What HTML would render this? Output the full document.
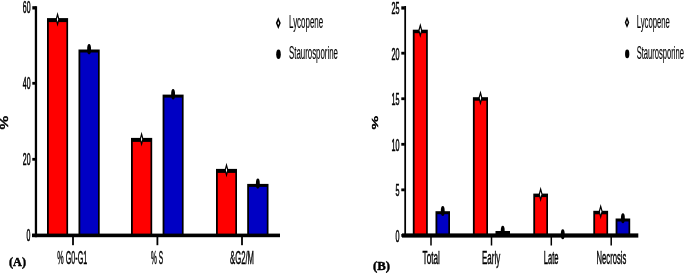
<!DOCTYPE html>
<html><head><meta charset="utf-8"><title>Figure</title>
<style>
html,body{margin:0;padding:0;background:#fff;}
svg{display:block;}
text{font-family:"Liberation Sans",Arial,sans-serif;fill:#000;stroke:#000;stroke-width:0.45px;}
.dig{stroke-width:0.6px;}
.leg{stroke-width:0.15px;}
.ser{font-family:"Liberation Serif","Times New Roman",serif;font-weight:bold;}
</style></head><body>
<svg width="685" height="274" viewBox="0 0 685 274">
<rect x="0" y="0" width="685" height="274" fill="#fff"/>

<rect x="47" y="18.1" width="21.099999999999994" height="217.20000000000002" fill="#000"/>
<rect x="48.8" y="22.1" width="17.599999999999994" height="213.20000000000002" fill="#ff0000"/>
<rect x="78.5" y="49.5" width="21.200000000000003" height="185.8" fill="#000"/>
<rect x="80.3" y="52.5" width="17.700000000000003" height="182.8" fill="#0000c4"/>
<polygon points="57.55,14.3 58.849999999999994,19.3 57.55,24.3 56.25,19.3" fill="#fff" stroke="#000" stroke-width="1.2"/>
<ellipse cx="89.1" cy="49.2" rx="1.95" ry="5.2" fill="#000"/>
<rect x="131" y="137.9" width="21.19999999999999" height="97.4" fill="#000"/>
<rect x="132.8" y="141.9" width="17.69999999999999" height="93.4" fill="#ff0000"/>
<rect x="162.6" y="94.6" width="21.0" height="140.70000000000002" fill="#000"/>
<rect x="164.4" y="97.6" width="17.5" height="137.70000000000002" fill="#0000c4"/>
<polygon points="141.6,134.1 142.9,139.1 141.6,144.1 140.29999999999998,139.1" fill="#fff" stroke="#000" stroke-width="1.2"/>
<ellipse cx="173.1" cy="94.3" rx="1.95" ry="5.2" fill="#000"/>
<rect x="216" y="168.9" width="21" height="66.4" fill="#000"/>
<rect x="217.8" y="172.9" width="17.5" height="62.400000000000006" fill="#ff0000"/>
<rect x="247.2" y="183.9" width="21.30000000000001" height="51.400000000000006" fill="#000"/>
<rect x="249.0" y="186.9" width="17.80000000000001" height="48.400000000000006" fill="#0000c4"/>
<polygon points="226.5,165.1 227.8,170.1 226.5,175.1 225.2,170.1" fill="#fff" stroke="#000" stroke-width="1.2"/>
<ellipse cx="257.85" cy="183.6" rx="1.95" ry="5.2" fill="#000"/>
<rect x="34.8" y="6.2" width="2.3" height="231" fill="#000"/>
<rect x="32" y="233.6" width="248" height="3.6" fill="#000"/>
<rect x="32.3" y="233.9" width="3.5" height="2.8" fill="#000"/>
<text x="30.5" y="241.4" font-size="16.8" textLength="3.9" lengthAdjust="spacingAndGlyphs" text-anchor="end" class="dig">0</text>
<rect x="32.3" y="157.9" width="3.5" height="2.8" fill="#000"/>
<text x="30.5" y="165.4" font-size="16.8" textLength="7.7" lengthAdjust="spacingAndGlyphs" text-anchor="end" class="dig">20</text>
<rect x="32.3" y="81.9" width="3.5" height="2.8" fill="#000"/>
<text x="30.5" y="89.4" font-size="16.8" textLength="7.7" lengthAdjust="spacingAndGlyphs" text-anchor="end" class="dig">40</text>
<rect x="32.3" y="6.2" width="3.5" height="3.3" fill="#000"/>
<text x="30.5" y="13.400000000000011" font-size="16.8" textLength="7.7" lengthAdjust="spacingAndGlyphs" text-anchor="end" class="dig">60</text>
<rect x="72.1" y="236" width="1.8" height="9.2" fill="#000"/>
<rect x="156.5" y="236" width="1.8" height="9.2" fill="#000"/>
<rect x="241.1" y="236" width="1.8" height="9.2" fill="#000"/>
<text x="57.3" y="264" font-size="18" textLength="30" lengthAdjust="spacingAndGlyphs" text-anchor="start">% G0-G1</text>
<text x="151" y="264" font-size="18" textLength="12" lengthAdjust="spacingAndGlyphs" text-anchor="start">% S</text>
<text x="230" y="264" font-size="18" textLength="24" lengthAdjust="spacingAndGlyphs" text-anchor="start">&amp;G2/M</text>
<text transform="translate(8.2,129.4) rotate(-90)" font-size="10.2" textLength="13.6" lengthAdjust="spacingAndGlyphs">%</text>
<text x="9" y="266.3" font-size="12.5" textLength="17" lengthAdjust="spacingAndGlyphs" text-anchor="start" class="ser">(A)</text>
<polygon points="278.3,19.200000000000003 279.95,23.1 278.3,27.0 276.65000000000003,23.1" fill="#fff" stroke="#000" stroke-width="1.5"/>
<text x="289" y="28.2" font-size="18" textLength="34.2" lengthAdjust="spacingAndGlyphs" text-anchor="start" class="leg">Lycopene</text>
<ellipse cx="278.5" cy="54.2" rx="2.3" ry="4.7" fill="#000"/>
<text x="289" y="59" font-size="18" textLength="49" lengthAdjust="spacingAndGlyphs" text-anchor="start" class="leg">Staurosporine</text>
<rect x="412.8" y="29.7" width="15.0" height="205.70000000000002" fill="#000"/>
<rect x="414.6" y="33.2" width="11.5" height="202.20000000000002" fill="#ff0000"/>
<rect x="435.5" y="211.2" width="14.5" height="24.200000000000017" fill="#000"/>
<rect x="437.3" y="214.2" width="11.0" height="21.200000000000017" fill="#0000c4"/>
<polygon points="420.3,25.25 421.7,30.5 420.3,35.75 418.90000000000003,30.5" fill="#fff" stroke="#000" stroke-width="1.2"/>
<ellipse cx="442.75" cy="210.89999999999998" rx="1.95" ry="5.0" fill="#000"/>
<rect x="472.9" y="97.2" width="15.100000000000023" height="138.2" fill="#000"/>
<rect x="474.7" y="100.7" width="11.600000000000023" height="134.7" fill="#ff0000"/>
<rect x="495.5" y="231" width="14.5" height="4.400000000000006" fill="#000"/>
<rect x="497.3" y="234" width="11.0" height="1.4000000000000057" fill="#0000c4"/>
<polygon points="480.45,92.75 481.84999999999997,98.0 480.45,103.25 479.05,98.0" fill="#fff" stroke="#000" stroke-width="1.2"/>
<ellipse cx="502.75" cy="230.7" rx="1.95" ry="5.0" fill="#000"/>
<rect x="533.3" y="193.6" width="14.700000000000045" height="41.80000000000001" fill="#000"/>
<rect x="535.0999999999999" y="197.1" width="11.200000000000045" height="38.30000000000001" fill="#ff0000"/>
<polygon points="540.65,189.15 542.05,194.4 540.65,199.65 539.25,194.4" fill="#fff" stroke="#000" stroke-width="1.2"/>
<ellipse cx="562.75" cy="234.2" rx="1.95" ry="5.0" fill="#000"/>
<rect x="593.3" y="210.8" width="14.800000000000068" height="24.599999999999994" fill="#000"/>
<rect x="595.0999999999999" y="214.3" width="11.300000000000068" height="21.099999999999994" fill="#ff0000"/>
<rect x="615.6" y="218.5" width="14.600000000000023" height="16.900000000000006" fill="#000"/>
<rect x="617.4" y="221.5" width="11.100000000000023" height="13.900000000000006" fill="#0000c4"/>
<polygon points="600.7,206.35000000000002 602.1,211.60000000000002 600.7,216.85000000000002 599.3000000000001,211.60000000000002" fill="#fff" stroke="#000" stroke-width="1.2"/>
<ellipse cx="622.9000000000001" cy="218.2" rx="1.95" ry="5.0" fill="#000"/>
<rect x="404.3" y="6" width="1.75" height="230" fill="#000"/>
<rect x="402" y="233.4" width="236.3" height="4.2" fill="#000"/>
<rect x="401.3" y="234.0" width="3.5" height="2.8" fill="#000"/>
<text x="399.6" y="241.70000000000002" font-size="17.4" textLength="4" lengthAdjust="spacingAndGlyphs" text-anchor="end" class="dig">0</text>
<rect x="401.3" y="188.45000000000002" width="3.5" height="2.8" fill="#000"/>
<text x="399.6" y="196.15000000000003" font-size="17.4" textLength="4" lengthAdjust="spacingAndGlyphs" text-anchor="end" class="dig">5</text>
<rect x="401.3" y="142.9" width="3.5" height="2.8" fill="#000"/>
<text x="399.6" y="150.60000000000002" font-size="17.4" textLength="8" lengthAdjust="spacingAndGlyphs" text-anchor="end" class="dig">10</text>
<rect x="401.3" y="97.35000000000002" width="3.5" height="2.8" fill="#000"/>
<text x="399.6" y="105.05000000000003" font-size="17.4" textLength="8" lengthAdjust="spacingAndGlyphs" text-anchor="end" class="dig">15</text>
<rect x="401.3" y="51.80000000000002" width="3.5" height="2.8" fill="#000"/>
<text x="399.6" y="59.500000000000014" font-size="17.4" textLength="8" lengthAdjust="spacingAndGlyphs" text-anchor="end" class="dig">20</text>
<rect x="401.3" y="6.3" width="3.5" height="3.3" fill="#000"/>
<text x="399.6" y="13.950000000000006" font-size="17.4" textLength="8" lengthAdjust="spacingAndGlyphs" text-anchor="end" class="dig">25</text>
<rect x="430.25" y="236" width="1.5" height="9.5" fill="#000"/>
<rect x="490.75" y="236" width="1.5" height="9.5" fill="#000"/>
<rect x="550.55" y="236" width="1.5" height="9.5" fill="#000"/>
<rect x="610.45" y="236" width="1.5" height="9.5" fill="#000"/>
<text x="422.6" y="264" font-size="18" textLength="17.3" lengthAdjust="spacingAndGlyphs" text-anchor="start">Total</text>
<text x="482" y="264" font-size="18" textLength="18.2" lengthAdjust="spacingAndGlyphs" text-anchor="start">Early</text>
<text x="543.8" y="264" font-size="18" textLength="14.8" lengthAdjust="spacingAndGlyphs" text-anchor="start">Late</text>
<text x="596.6" y="264" font-size="18" textLength="29.7" lengthAdjust="spacingAndGlyphs" text-anchor="start">Necrosis</text>
<text transform="translate(378.1,129.5) rotate(-90)" font-size="8.4" textLength="13.6" lengthAdjust="spacingAndGlyphs">%</text>
<text x="373" y="270.3" font-size="12.5" textLength="17" lengthAdjust="spacingAndGlyphs" text-anchor="start" class="ser">(B)</text>
<polygon points="627,18.599999999999998 628.5,22.4 627,26.2 625.5,22.4" fill="#fff" stroke="#000" stroke-width="1.4"/>
<text x="636.7" y="28.2" font-size="18" textLength="33.2" lengthAdjust="spacingAndGlyphs" text-anchor="start" class="leg">Lycopene</text>
<ellipse cx="627.2" cy="53.9" rx="2.15" ry="4.4" fill="#000"/>
<text x="636.7" y="59" font-size="18" textLength="47.3" lengthAdjust="spacingAndGlyphs" text-anchor="start" class="leg">Staurosporine</text>
</svg></body></html>
